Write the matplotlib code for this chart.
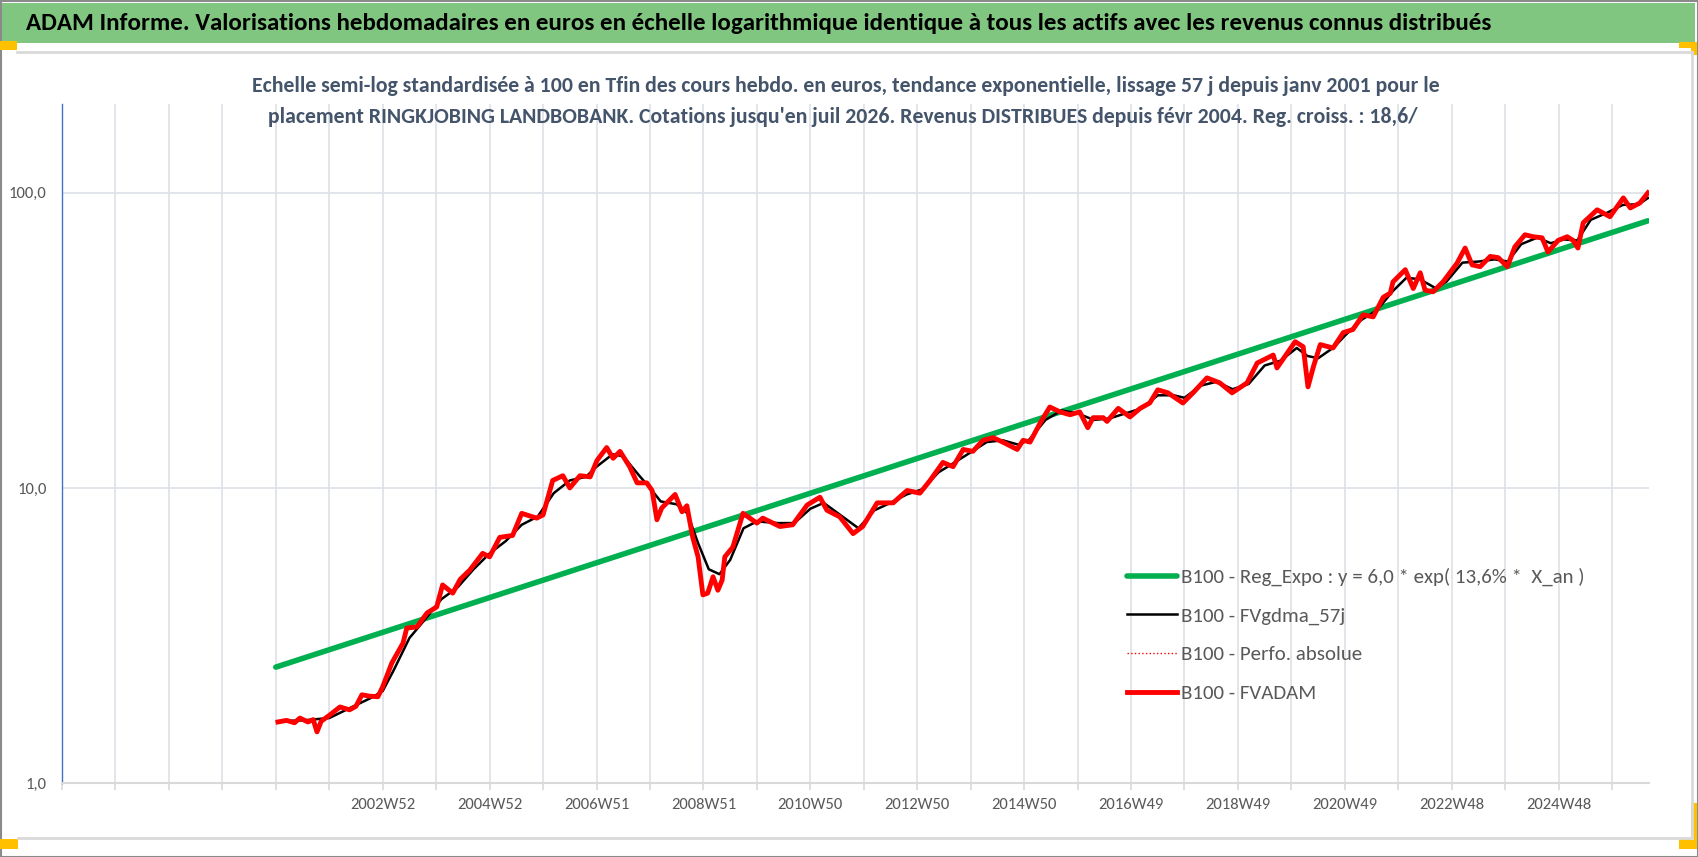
import matplotlib
import matplotlib.pyplot as plt
from matplotlib import font_manager
from matplotlib.patches import Rectangle
from matplotlib.lines import Line2D
from matplotlib.ticker import FixedLocator, FixedFormatter, NullLocator

matplotlib.use("Agg")

# --- data ---
red_years = [2001.04, 2001.2, 2001.35, 2001.45, 2001.6, 2001.7, 2001.77, 2001.85, 2002.01, 2002.2,
             2002.38, 2002.5, 2002.61, 2002.75, 2002.91, 2003.00, 2003.17, 2003.38, 2003.45, 2003.64,
             2003.83, 2004.01, 2004.12, 2004.31, 2004.45, 2004.63, 2004.87, 2005.00, 2005.19, 2005.43,
             2005.60, 2005.88, 2006.00, 2006.18, 2006.37, 2006.50, 2006.69, 2006.88, 2007.01, 2007.19,
             2007.31, 2007.44, 2007.62, 2007.76, 2007.94, 2008.04, 2008.13, 2008.22, 2008.47, 2008.60,
             2008.69, 2008.80, 2008.90, 2008.99, 2009.08, 2009.18, 2009.27, 2009.35, 2009.40, 2009.55,
             2009.74, 2010.00, 2010.11, 2010.43, 2010.67, 2010.94, 2011.18, 2011.31, 2011.55, 2011.80,
             2011.98, 2012.25, 2012.55, 2012.81, 2013.05, 2013.24, 2013.48, 2013.67, 2013.86, 2014.04,
             2014.23, 2014.42, 2014.60, 2014.87, 2014.98, 2015.11, 2015.30, 2015.48, 2015.67, 2015.86,
             2016.04, 2016.19, 2016.29, 2016.48, 2016.55, 2016.76, 2016.98, 2017.17, 2017.35, 2017.50,
             2017.69, 2017.97, 2018.16, 2018.42, 2018.66, 2018.89, 2019.17, 2019.36, 2019.66, 2019.73,
             2020.07, 2020.22, 2020.31, 2020.41, 2020.54, 2020.78, 2020.97, 2021.15, 2021.34, 2021.53,
             2021.72, 2021.85, 2021.90, 2022.13, 2022.28, 2022.41, 2022.50, 2022.65, 2022.84, 2023.10,
             2023.25, 2023.38, 2023.53, 2023.72, 2023.87, 2024.04, 2024.18, 2024.37, 2024.52, 2024.69,
             2024.80, 2024.99, 2025.16, 2025.27, 2025.36, 2025.46, 2025.72, 2025.96, 2026.21, 2026.34,
             2026.52, 2026.67]
red_vals = [1.61, 1.63, 1.60, 1.66, 1.61, 1.64, 1.49, 1.62, 1.70, 1.81,
            1.77, 1.82, 1.99, 1.97, 1.96, 2.12, 2.55, 2.98, 3.35, 3.38,
            3.77, 3.95, 4.69, 4.40, 4.90, 5.27, 6.00, 5.84, 6.80, 6.90,
            8.20, 7.90, 8.10, 10.6, 11.0, 10.0, 11.0, 10.9, 12.4, 13.7,
            12.6, 13.3, 11.8, 10.4, 10.4, 9.80, 7.80, 8.55, 9.50, 8.30,
            8.70, 6.80, 5.84, 4.34, 4.40, 5.00, 4.50, 4.87, 5.84, 6.30,
            8.20, 7.60, 7.90, 7.40, 7.50, 8.75, 9.30, 8.40, 7.98, 7.00,
            7.40, 8.90, 8.90, 9.80, 9.60, 10.6, 12.2, 11.8, 13.5, 13.3,
            14.5, 14.8, 14.3, 13.5, 14.5, 14.3, 16.6, 18.8, 18.1, 17.7,
            18.1, 16.0, 17.3, 17.3, 16.8, 18.6, 17.4, 18.6, 19.4, 21.5,
            21.0, 19.4, 21.0, 23.6, 22.7, 21.0, 22.7, 26.5, 28.2, 25.5,
            31.3, 30.1, 22.0, 25.7, 30.6, 29.8, 33.6, 34.4, 38.6, 38.0,
            44.3, 45.7, 49.9, 54.9, 47.4, 53.6, 46.8, 46.2, 50.0, 57.8,
            65.0, 57.0, 56.2, 60.9, 60.3, 56.2, 65.6, 72.1, 71.0, 70.4,
            63.0, 69.0, 71.0, 69.0, 65.0, 79.2, 87.6, 83.0, 96.1, 88.9,
            92.4, 100.0]

black_years = [2001.04, 2001.5, 2002.0, 2002.4, 2002.8, 2003.0, 2003.2, 2003.5, 2003.8, 2004.1,
               2004.4, 2004.7, 2005.0, 2005.3, 2005.6, 2005.9, 2006.2, 2006.5, 2006.8, 2007.0,
               2007.3, 2007.5, 2007.8, 2008.0, 2008.2, 2008.5, 2008.7, 2008.9, 2009.1, 2009.3,
               2009.5, 2009.75, 2010.0, 2010.4, 2010.7, 2011.0, 2011.25, 2011.6, 2011.9, 2012.2,
               2012.5, 2012.8, 2013.1, 2013.4, 2013.7, 2014.0, 2014.3, 2014.6, 2014.9, 2015.1,
               2015.4, 2015.7, 2016.0, 2016.3, 2016.6, 2016.9, 2017.2, 2017.5, 2017.8, 2018.0,
               2018.3, 2018.6, 2018.9, 2019.2, 2019.5, 2019.8, 2020.1, 2020.3, 2020.5, 2020.8,
               2021.0, 2021.3, 2021.6, 2021.9, 2022.15, 2022.4, 2022.7, 2022.9, 2023.2, 2023.5,
               2023.8, 2024.05, 2024.3, 2024.6, 2024.85, 2025.1, 2025.35, 2025.6, 2025.9, 2026.2,
               2026.5, 2026.67]
black_vals = [1.62, 1.63, 1.66, 1.80, 1.95, 2.05, 2.40, 3.10, 3.60, 4.20,
              4.60, 5.30, 6.00, 6.60, 7.50, 8.00, 9.60, 10.6, 10.9, 11.8,
              13.0, 12.8, 11.0, 10.0, 9.00, 8.80, 8.20, 6.50, 5.30, 5.10,
              5.70, 7.30, 7.70, 7.60, 7.60, 8.50, 8.90, 8.00, 7.30, 8.40,
              8.90, 9.50, 9.90, 11.3, 12.2, 13.2, 14.3, 14.5, 14.0, 14.6,
              17.0, 18.3, 17.9, 17.0, 17.2, 17.9, 18.6, 20.6, 20.6, 20.2,
              22.2, 22.9, 21.6, 22.5, 26.0, 27.0, 29.8, 28.0, 27.5, 30.0,
              32.8, 37.0, 40.0, 46.5, 51.5, 51.0, 47.5, 50.0, 58.0, 58.5,
              59.5, 58.5, 67.0, 70.5, 67.5, 69.5, 69.0, 81.0, 85.5, 91.0,
              91.5, 96.0]

green_years = [2001.0, 2026.67]
green_vals = [2.47, 80.4]

label_years = [2003, 2005, 2007, 2009, 2011, 2013, 2015, 2017, 2019, 2021, 2023, 2025]
week_labels = ["2002W52", "2004W52", "2006W51", "2008W51", "2010W50", "2012W50",
               "2014W50", "2016W49", "2018W49", "2020W49", "2022W48", "2024W48"]

y_ticks = [1, 10, 100]
y_labels = ["1,0", "10,0", "100,0"]

legend_labels = ["B100 - Reg_Expo : y = 6,0 * exp( 13,6% *  X_an )",
                 "B100 - FVgdma_57j",
                 "B100 - Perfo. absolue",
                 "B100 - FVADAM"]

title = ("ADAM Informe. Valorisations hebdomadaires en euros en échelle logarithmique "
         "identique à tous les actifs avec les revenus connus distribués")
subtitle_1 = ("Echelle semi-log standardisée à 100 en Tfin des cours hebdo. en euros, tendance "
              "exponentielle, lissage 57 j depuis janv 2001 pour le")
subtitle_2 = ("placement RINGKJOBING LANDBOBANK. Cotations jusqu'en juil 2026. Revenus "
              "DISTRIBUES depuis févr 2004. Reg. croiss. : 18,6/")

# --- font ---
installed = {f.name for f in font_manager.fontManager.ttflist}
FONT = next((f for f in ["Carlito", "Liberation Sans Narrow", "Open Sans", "DejaVu Sans"]
             if f in installed), "DejaVu Sans")
plt.rcParams["font.family"] = [FONT, "DejaVu Sans"]

W, H = 1698, 857
fig = plt.figure(figsize=(W / 100, H / 100), dpi=100)


def fx(x):
    return x / W


def fy(y):
    return 1 - y / H


def box(x0, y0, x1, y1, **kw):
    fig.patches.append(Rectangle((fx(x0), fy(y1)), (x1 - x0) / W, (y1 - y0) / H,
                                 transform=fig.transFigure, **kw))


def hline(x0, x1, y, **kw):
    fig.lines.append(Line2D([fx(x0), fx(x1)], [fy(y), fy(y)], transform=fig.transFigure, **kw))


def vline(x, y0, y1, **kw):
    fig.lines.append(Line2D([fx(x), fx(x)], [fy(y0), fy(y1)], transform=fig.transFigure, **kw))


# frame decoration (Excel-like)
box(0.5, 0.5, W - 0.5, H - 0.5, fill=False, edgecolor="#8a8a8a", lw=1.5)
box(2, 3, 1695, 43, facecolor="#80c680", edgecolor="none")
hline(17, 1692, 52, color="#d9d9d9", lw=2)
hline(18, 1692, 838, color="#d9d9d9", lw=2)
vline(1692, 52, 838, color="#d9d9d9", lw=2)
gold = "#ffc000"
box(0, 41, 17, 50, facecolor=gold, edgecolor="none")
box(1679, 42, 1697, 48, facecolor=gold, edgecolor="none")
box(1691, 42, 1697, 55, facecolor=gold, edgecolor="none")
box(1691, 803, 1697, 849, facecolor=gold, edgecolor="none")
box(1679, 838, 1697, 849, facecolor=gold, edgecolor="none")
box(0, 839, 18, 849, facecolor=gold, edgecolor="none")

ax = fig.add_axes([fx(62), fy(783), (1649 - 62) / W, (783 - 104) / H])
ax.set_yscale("log")
ax.set_xlim(1997.0, 2026.69)
ax.set_ylim(1, 200)

ax.plot(green_years, green_vals, color="#00b050", lw=4.0, solid_capstyle="round",
        label=legend_labels[0], zorder=3)
ax.plot(black_years, black_vals, color="black", lw=1.8, label=legend_labels[1], zorder=4)
ax.plot(red_years, red_vals, color="red", lw=1.0, ls=":", label=legend_labels[2], zorder=5)
ax.plot(red_years, red_vals, color="red", lw=3.5, solid_joinstyle="round",
        label=legend_labels[3], zorder=6)

# axes styling
for s in ["top", "right"]:
    ax.spines[s].set_visible(False)
ax.spines["left"].set_color("#4472c4")
ax.spines["left"].set_linewidth(1.0)
ax.spines["bottom"].set_color("#d9d9d9")
ax.spines["bottom"].set_linewidth(1.5)

grid_years = list(range(1997, 2027))
ax.xaxis.set_major_locator(FixedLocator(grid_years))
ax.xaxis.set_major_formatter(FixedFormatter(
    [week_labels[label_years.index(y)] if y in label_years else "" for y in grid_years]))
ax.xaxis.set_minor_locator(NullLocator())
ax.tick_params(axis="x", length=5, width=1.2, color="#d9d9d9", pad=6,
               labelsize=12, labelcolor="#595959")

ax.yaxis.set_major_locator(FixedLocator(y_ticks))
ax.yaxis.set_major_formatter(FixedFormatter(y_labels))
ax.yaxis.set_minor_locator(NullLocator())
ax.tick_params(axis="y", length=0, pad=11, labelsize=12, labelcolor="#595959")

ax.grid(True, which="major", color="#dde1e8", lw=1.2, zorder=0)
ax.set_axisbelow(True)

leg = ax.legend(loc="upper left", bbox_to_anchor=(fx(1127), fy(568)),
                bbox_transform=fig.transFigure, frameon=False, fontsize=15,
                handlelength=2.4, handletextpad=0.2, labelspacing=1.0,
                borderpad=0, borderaxespad=0)
for t in leg.get_texts():
    t.set_color("#595959")

# titles
t_main = fig.text(fx(26), fy(24), title, ha="left", va="center", fontsize=17,
                  fontweight="bold", color="black")
t_sub1 = fig.text(fx(846), fy(86), subtitle_1, ha="center", va="center", fontsize=14,
                  fontweight="bold", color="#44546a")
t_sub2 = fig.text(fx(843), fy(117), subtitle_2, ha="center", va="center", fontsize=14,
                  fontweight="bold", color="#44546a")

# fit text widths to the reference
renderer = fig.canvas.get_renderer()
for t, width in [(t_main, 1469), (t_sub1, 1191)]:
    bb = t.get_window_extent(renderer)
    t.set_fontsize(t.get_fontsize() * width / bb.width)
t_sub2.set_fontsize(t_sub1.get_fontsize())

fig.savefig("out.png", dpi=100)
